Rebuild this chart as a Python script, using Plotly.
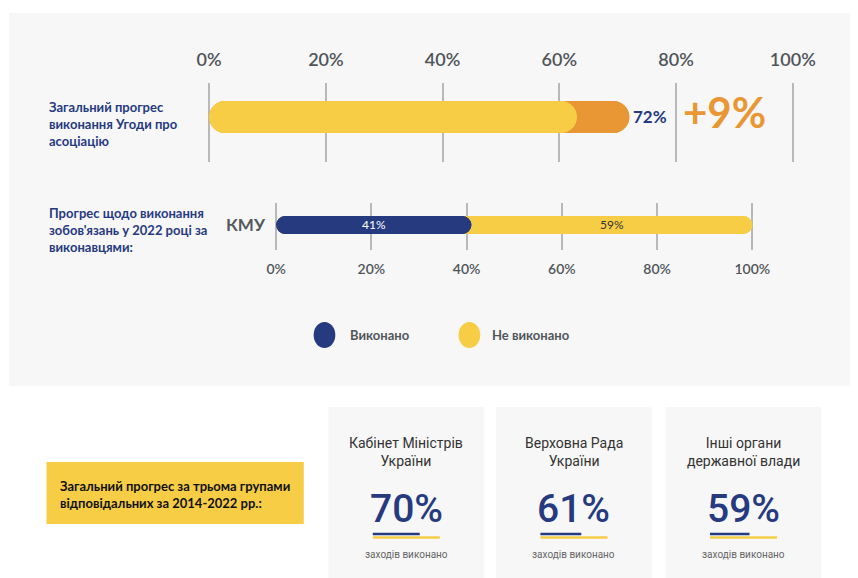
import plotly.graph_objects as go

# ---- data ----
ticks = [0, 20, 40, 60, 80, 100]
tick_labels = ["0%", "20%", "40%", "60%", "80%", "100%"]

progress_total = 72      # overall progress, %
progress_increase = 9    # growth vs previous period, %
progress_prev = progress_total - progress_increase

executor = "КМУ"
done = 41
not_done = 59

legend_names = ["Виконано", "Не виконано"]

card_titles = ["Кабінет Міністрів<br>України", "Верховна Рада<br>України",
               "Інші органи<br>державної влади"]
card_values = [70, 61, 59]
card_caption = "заходів виконано"

label_top = "Загальний прогрес<br>виконання Угоди про<br>асоціацію"
label_mid = "Прогрес щодо виконання<br>зобов'язань у 2022 році за<br>виконавцями:"
label_box = "Загальний прогрес за трьома групами<br>відповідальних за 2014-2022 рр.:"

# ---- style ----
OFF = 8   # page body margin shifts the figure by 8px
W, H = 858 - OFF, 578 - OFF
NAVY = "#263a80"
YELLOW = "#f7cd46"
ORANGE = "#e89734"
PANEL = "#f7f7f7"
GRID = "#b8b8b8"
TXT = "#51565b"
FONT = "Lato"


def px(x):
    return (x - OFF) / W


def py(y):
    return 1 - (y - OFF) / H


def rounded_bar(fig, value, base, color, height, xa, ya):
    # two overlaid bars, each rounded on its far end -> pill shape
    for x, b in [(value, base), (-value, base + value)]:
        fig.add_trace(go.Bar(x=[x], y=[0], base=[b], orientation="h",
                             width=height, marker=dict(color=color, cornerradius=height / 2,
                                                       line=dict(width=0)),
                             xaxis=xa, yaxis=ya, showlegend=False, hoverinfo="skip"))


fig = go.Figure()

# top chart: overall progress
rounded_bar(fig, progress_total, 0, ORANGE, 32, "x", "y")
rounded_bar(fig, progress_prev, 0, YELLOW, 32, "x", "y")

# second chart: by executor
rounded_bar(fig, done + not_done, 0, YELLOW, 18, "x2", "y2")
rounded_bar(fig, done, 0, NAVY, 18, "x2", "y2")

pad = 2
ax1 = (211, 803)
ax2 = (279, 762)
s1 = (ax1[1] - ax1[0]) / 100
s2 = (ax2[1] - ax2[0]) / 100

fig.update_layout(
    width=W, height=H, margin=dict(l=0, r=0, t=0, b=0),
    paper_bgcolor="white", plot_bgcolor="rgba(0,0,0,0)",
    barmode="overlay", showlegend=False,
    font=dict(family=FONT, color=TXT),
    xaxis=dict(domain=[px(ax1[0] - pad * s1), px(ax1[1] + pad * s1)], range=[-pad, 100 + pad],
               side="top", tickvals=ticks, ticktext=tick_labels,
               tickfont=dict(size=18, color="#4f5459", family=FONT, weight=600),
               ticks="outside", ticklen=9, tickcolor="rgba(0,0,0,0)",
               showgrid=True, gridcolor=GRID, gridwidth=1.5, zeroline=False,
               showline=False, anchor="y", fixedrange=True),
    yaxis=dict(domain=[py(162), py(83)], range=[-(162 - 117), 117 - 83], visible=False,
               anchor="x", fixedrange=True),
    xaxis2=dict(domain=[px(ax2[0] - pad * s2), px(ax2[1] + pad * s2)], range=[-pad, 100 + pad],
                side="bottom", tickvals=ticks, ticktext=tick_labels,
                tickfont=dict(size=14, color="#4f5459", family=FONT, weight=600),
                ticks="outside", ticklen=6, tickcolor="rgba(0,0,0,0)",
                showgrid=True, gridcolor=GRID, gridwidth=1.5, zeroline=False,
                showline=False, anchor="y2", fixedrange=True),
    yaxis2=dict(domain=[py(250), py(203)], range=[-(250 - 225), 225 - 203], visible=False,
                anchor="x2", fixedrange=True),
)

shapes = []
# grey panel behind the charts
shapes.append(dict(type="rect", xref="paper", yref="paper", x0=px(8), x1=px(870),
                   y0=py(386), y1=py(13), fillcolor=PANEL, line_width=0, layer="below"))
# yellow box
shapes.append(dict(type="rect", xref="paper", yref="paper", x0=px(46), x1=px(307),
                   y0=py(524), y1=py(462), fillcolor=YELLOW, line_width=0, layer="below"))
# legend dots
for cx, col in [(328, NAVY), (475, YELLOW)]:
    shapes.append(dict(type="circle", xref="paper", yref="paper", x0=px(cx - 11), x1=px(cx + 11),
                       y0=py(348), y1=py(322), fillcolor=col, line_width=0))

annotations = []


def note(text, x, y, size, color=TXT, weight="normal", xanchor="left", align="left",
         family=FONT, xref="paper", yref="paper", xshift=0, yshift=0):
    annotations.append(dict(text=text, x=x, y=y, xref=xref, yref=yref, xanchor=xanchor,
                            yanchor="middle", align=align, showarrow=False,
                            xshift=xshift, yshift=yshift,
                            font=dict(size=size, color=color, family=family, weight=weight)))


note(label_top, px(47), py(124), 13, NAVY, "bold")
note(label_mid, px(47), py(230), 13, NAVY, "bold")
note(f"{progress_total}%", progress_total, 0, 17, NAVY, "bold", xref="x", yref="y", xshift=2)
note(f"+{progress_increase}%", px(690), py(112), 42, ORANGE, "bold")
note(executor, px(271), py(224), 17, "#555a5f", "bold", xanchor="right")
note(f"{done}%", done / 2, 0, 12, "white", xanchor="center", xref="x2", yref="y2")
note(f"{not_done}%", done + not_done / 2, 0, 12, "#333333", xanchor="center",
     xref="x2", yref="y2")
note(legend_names[0], px(352), py(335), 13, TXT, "bold")
note(legend_names[1], px(496), py(335), 13, TXT, "bold")
note(label_box, px(58), py(494), 13, "#111111", "bold")

# cards
card_left = [332, 502, 674]
card_w = 158
for left, title, val in zip(card_left, card_titles, card_values):
    cx = left + card_w / 2
    shapes.append(dict(type="rect", xref="paper", yref="paper", x0=px(left), x1=px(left + card_w),
                       y0=py(585), y1=py(407), fillcolor=PANEL, line_width=0, layer="below"))
    note(title, px(cx), py(452), 14, "#333333", xanchor="center", align="center", family="Roboto")
    note(f"{val}%", px(cx), py(509), 39, NAVY, weight=500, xanchor="center", family="Roboto")
    note(card_caption, px(cx), py(554), 10, "#666666", xanchor="center", family="Roboto")
    shapes.append(dict(type="line", xref="paper", yref="paper", x0=px(cx - 34), x1=px(cx + 34),
                       y0=py(537.5), y1=py(537.5), line=dict(color=YELLOW, width=2.5)))
    shapes.append(dict(type="line", xref="paper", yref="paper", x0=px(cx - 34),
                       x1=px(cx - 34 + 68 * val / 100),
                       y0=py(534), y1=py(534), line=dict(color=NAVY, width=2.5)))

fig.update_layout(shapes=shapes, annotations=annotations)

fig.write_html("out.html", config={"displayModeBar": False})
